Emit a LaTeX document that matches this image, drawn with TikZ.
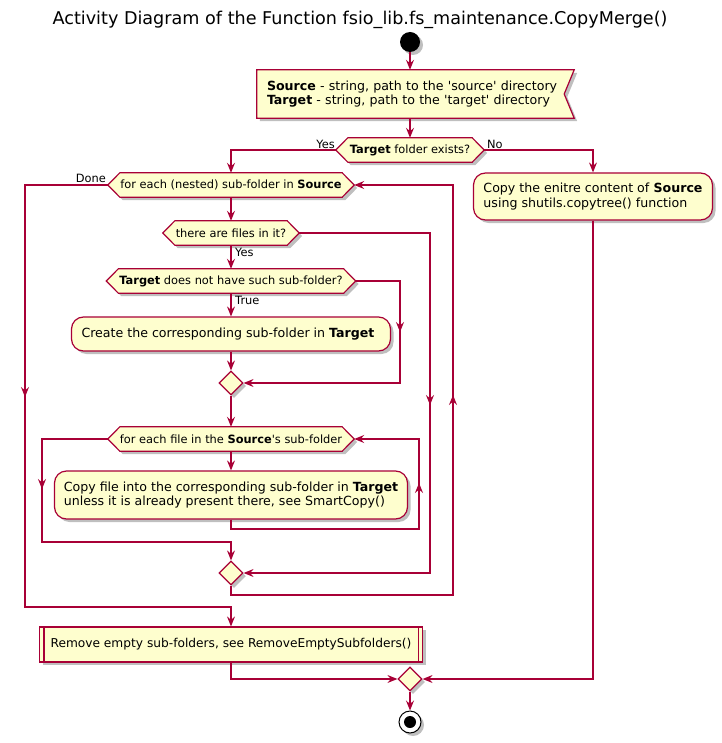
\documentclass[tikz,border=0pt]{standalone}
\usepackage{fontspec}
\setmainfont{DejaVu Sans}
\usetikzlibrary{arrows.meta,shapes.geometric,shadows,calc}
\definecolor{umlred}{HTML}{A80036}
\definecolor{umlfill}{HTML}{FEFECE}
\pgfdeclarelayer{bg}
\pgfsetlayers{bg,main}
\tikzset{
 shad/.style={drop shadow={shadow xshift=3pt,shadow yshift=-3pt,opacity=0.25,fill=black}},
 box/.style={draw=umlred,fill=umlfill,line width=1.2pt,shad},
 action/.style={box,rectangle,rounded corners=12pt,inner xsep=0pt,inner ysep=0pt,align=left,font=\fontsize{12.6}{14.5}\selectfont},
 dectext/.style={rectangle,inner sep=0pt,minimum height=24pt,font=\fontsize{11.4}{13}\selectfont},
 merge/.style={box,diamond,minimum width=24pt,minimum height=24pt,inner sep=0pt},
 flow/.style={draw=umlred,line width=1.2pt},
 arr/.style={flow,-{Stealth[length=10pt,width=8pt,inset=3.5pt]}},
 lbl/.style={font=\fontsize{11.4}{13}\selectfont,inner sep=1pt},
}
\newcommand\umlhex[4]{%
 \node[dectext,minimum width=#3] (#1) at (#2) {#4};
 \begin{pgfonlayer}{bg}
 \path[box] (#1.west) -- ([xshift=12pt]#1.north west) -- ([xshift=-12pt]#1.north east) -- (#1.east) -- ([xshift=-12pt]#1.south east) -- ([xshift=12pt]#1.south west) -- cycle;
 \end{pgfonlayer}}
\begin{document}
\begin{tikzpicture}[x=1pt,y=-1pt]
\useasboundingbox (0,0) rectangle (721,743);
\node[font=\fontsize{17.6}{20}\selectfont] (title) at (360,20) {Activity Diagram of the Function fsio\_lib.fs\_maintenance.CopyMerge()};
\node[circle,fill=black,minimum size=20pt,inner sep=0pt,shad] (start) at (410,42) {};
\node[rectangle,inner xsep=10pt,inner ysep=0pt,text width=297pt,minimum height=48pt,align=left,font=\fontsize{12.6}{14.5}\selectfont] (inp) at (415.5,94) {\textbf{Source} - string, path to the \textquotesingle source\textquotesingle{} directory\\\textbf{Target} - string, path to the \textquotesingle target\textquotesingle{} directory};
\begin{pgfonlayer}{bg}
\path[box] (inp.north west) -- (inp.north east) -- ([xshift=-10pt]inp.east) -- (inp.south east) -- (inp.south west) -- cycle;
\end{pgfonlayer}
\umlhex{dec1}{410,150}{148pt}{\textbf{Target} folder exists?}
\umlhex{fe1}{231,185}{246pt}{for each (nested) sub-folder in \textbf{Source}}
\node[action,minimum width=239pt,minimum height=47pt] (copyall) at (593,196.5) {Copy the enitre content of \textbf{Source}\\using shutils.copytree() function};
\umlhex{files}{231,233}{136pt}{there are files in it?}
\umlhex{nosub}{231,281}{249pt}{\textbf{Target} does not have such sub-folder?}
\node[action,minimum width=319pt,minimum height=34pt] (create) at (231,334) {Create the corresponding sub-folder in \textbf{Target}\hspace{6pt}};
\node[merge] (m1) at (231,383) {};
\umlhex{fe2}{231,439}{246pt}{for each file in the \textbf{Source}\textquotesingle s sub-folder}
\node[action,minimum width=353pt,minimum height=48pt] (copyfile) at (231,495) {Copy file into the corresponding sub-folder in \textbf{Target}\\unless it is already present there, see SmartCopy()};
\node[merge] (m2) at (231,573) {};
\node[box,rectangle,minimum width=383pt,minimum height=35pt,inner sep=0pt,font=\fontsize{12.2}{14}\selectfont] (rm) at (231,644.5) {Remove empty sub-folders, see RemoveEmptySubfolders()};
\draw[flow] ([xshift=5pt]rm.north west) -- ([xshift=5pt]rm.south west);
\draw[flow] ([xshift=-5pt]rm.north east) -- ([xshift=-5pt]rm.south east);
\node[merge] (mf) at (410,679) {};
\node[circle,draw=black,fill=white,line width=1pt,minimum size=22pt,inner sep=0pt,shad] (stop) at (410,722) {};
\node[circle,fill=black,minimum size=12pt,inner sep=0pt] (stopdot) at (stop) {};
% coordinates
\coordinate (a1) at (25,185); \coordinate (a2) at (25,607); \coordinate (a3) at (231,607); \coordinate (ta) at (25,397);
\coordinate (b1) at (400,281); \coordinate (b2) at (400,383); \coordinate (tb) at (400,332);
\coordinate (c1) at (430,233); \coordinate (c2) at (430,573); \coordinate (tc) at (430,405);
\coordinate (d1) at (231,529); \coordinate (d2) at (419,529); \coordinate (d3) at (419,439); \coordinate (td) at (419,483);
\coordinate (e1) at (42,439); \coordinate (e2) at (42,542); \coordinate (e3) at (231,542); \coordinate (te) at (42,489);
\coordinate (f1) at (231,595); \coordinate (f2) at (453,595); \coordinate (f3) at (453,185); \coordinate (tf) at (453,395);
\coordinate (g1) at (231,679); \coordinate (h1) at (593,679);
% connectors
\draw[arr] (start) -- (start |- inp.north);
\draw[arr] (start |- inp.south) -- (dec1.north);
\draw[arr] (dec1.west) -| (fe1.north);
\draw[arr] (dec1.east) -| (copyall.north);
\draw[arr] (fe1.south) -- (files.north);
\draw[arr] (files.south) -- (nosub.north);
\draw[arr] (nosub.south) -- (create.north);
\draw[arr] (create.south) -- (m1.north);
\draw[arr] (nosub.east) -- (b1) -- (b2) -- (m1.east);
\draw[arr] ($(tb)+(0,-12)$) -- (tb);
\draw[arr] (m1.south) -- (fe2.north);
\draw[arr] (fe2.south) -- (copyfile.north);
\draw[arr] (copyfile.south) -- (d1) -- (d2) -- (d3) -- (fe2.east);
\draw[arr] ($(td)+(0,12)$) -- (td);
\draw[arr] (fe2.west) -- (e1) -- (e2) -- (e3) -- (m2.north);
\draw[arr] ($(te)+(0,-12)$) -- (te);
\draw[arr] (files.east) -- (c1) -- (c2) -- (m2.east);
\draw[arr] ($(tc)+(0,-12)$) -- (tc);
\draw[arr] (m2.south) -- (f1) -- (f2) -- (f3) -- (fe1.east);
\draw[arr] ($(tf)+(0,12)$) -- (tf);
\draw[arr] (fe1.west) -- (a1) -- (a2) -- (a3) -- (rm.north);
\draw[arr] ($(ta)+(0,-12)$) -- (ta);
\draw[arr] (rm.south) -- (g1) -- (mf.west);
\draw[arr] (copyall.south) -- (h1) -- (mf.east);
\draw[arr] (mf.south) -- (stop.north);
% labels
\node[lbl,anchor=east] (lyes1) at (336,144) {Yes};
\node[lbl,anchor=west] (lno) at (486,144) {No};
\node[lbl,anchor=east] (ldone) at (107,178) {Done};
\node[lbl,anchor=west] (lyes2) at (234,252) {Yes};
\node[lbl,anchor=west] (ltrue) at (234,300) {True};
\end{tikzpicture}
\end{document}
